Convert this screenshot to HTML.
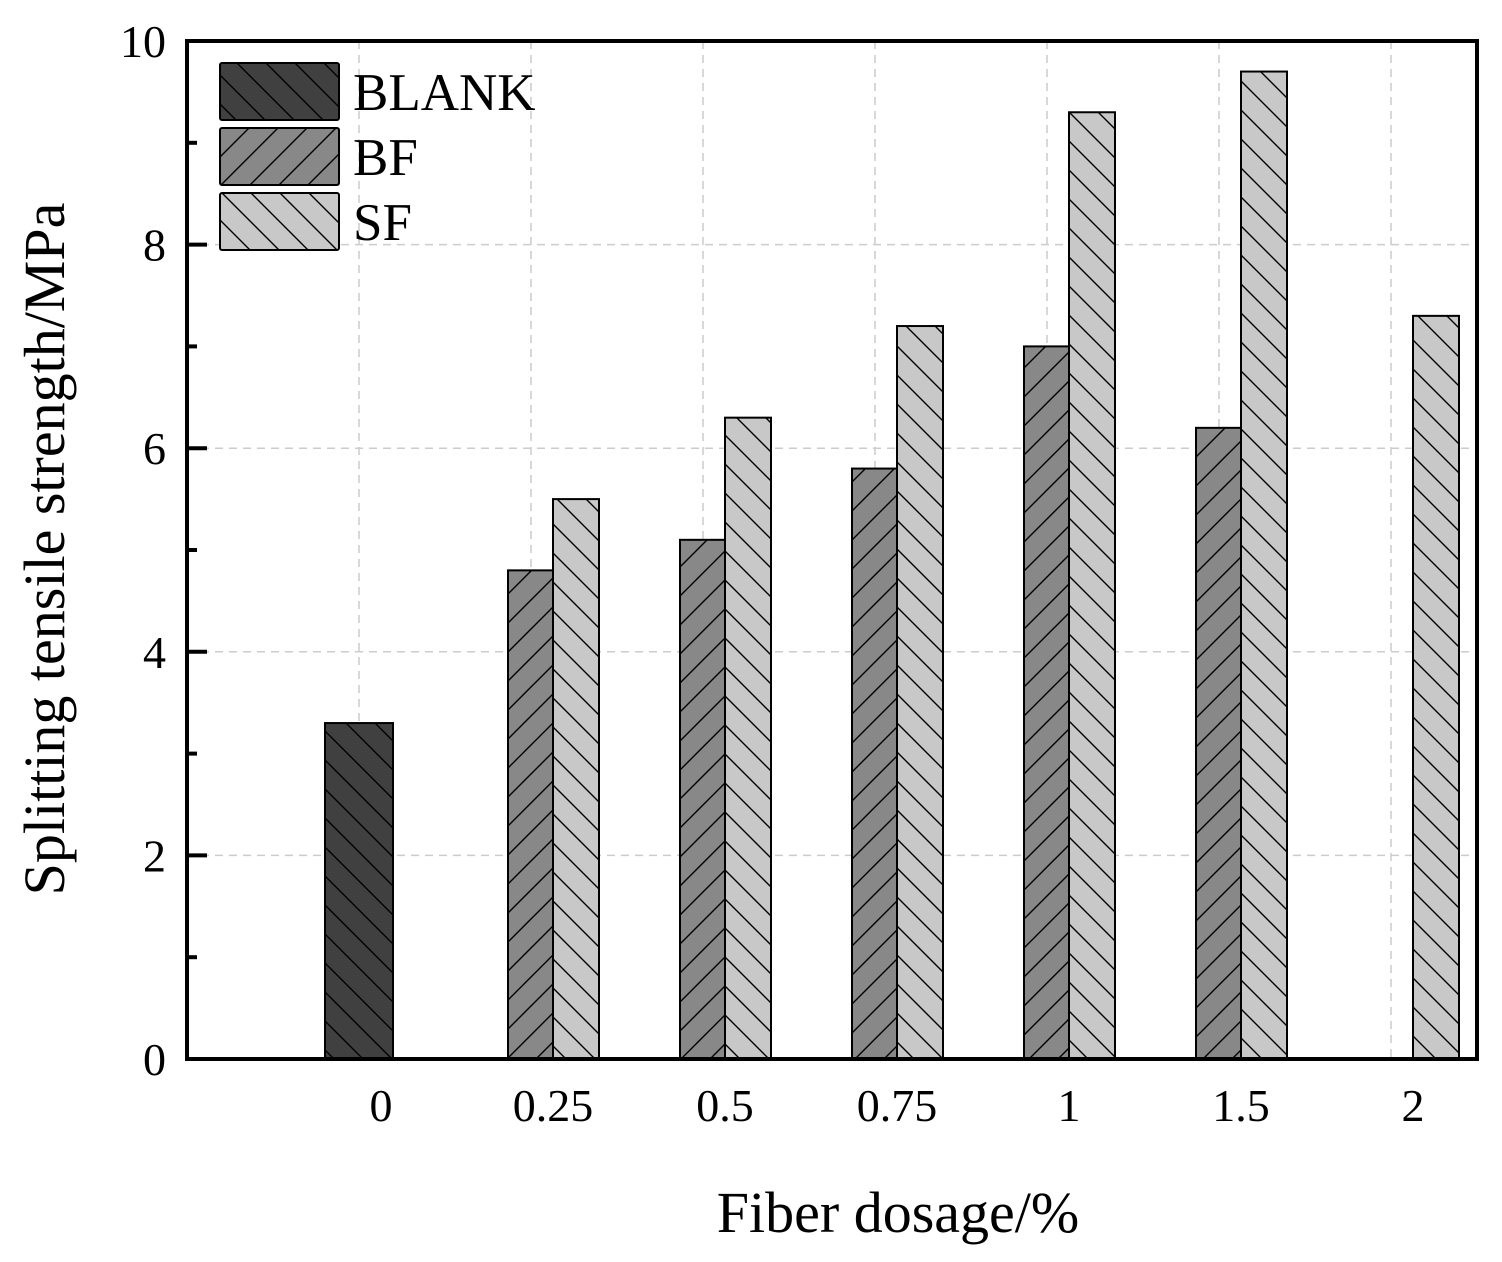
<!DOCTYPE html>
<html><head><meta charset="utf-8"><style>
body{margin:0;background:#fff}
svg{display:block;font-family:"Liberation Serif",serif}
</style></head><body>
<svg width="1502" height="1262" viewBox="0 0 1502 1262">
<defs>
<pattern id="hb" patternUnits="userSpaceOnUse" width="29" height="29"><rect width="29" height="29" fill="#404040"/><path d="M-7,-7L36,36M-7,22L7,36M22,-7L36,7" stroke="#000" stroke-width="1.4"/></pattern>
<pattern id="hf" patternUnits="userSpaceOnUse" width="29" height="29"><rect width="29" height="29" fill="#888"/><path d="M-7,36L36,-7M-7,7L7,-7M22,36L36,22" stroke="#000" stroke-width="1.4"/></pattern>
<pattern id="hs" patternUnits="userSpaceOnUse" width="29" height="29"><rect width="29" height="29" fill="#c8c8c8"/><path d="M-7,-7L36,36M-7,22L7,36M22,-7L36,7" stroke="#000" stroke-width="1.4"/></pattern>
</defs>
<g id="grid"></g>
<g id="bars"></g>
<g id="axes"></g>
<g>
<rect x="220" y="63" width="119" height="57" rx="2" fill="url(#hb)" stroke="#000" stroke-width="2"/>
<rect x="220" y="128" width="119" height="57" rx="2" fill="url(#hf)" stroke="#000" stroke-width="2"/>
<rect x="220" y="193" width="119" height="57" rx="2" fill="url(#hs)" stroke="#000" stroke-width="2"/>
<text x="353" y="110" font-size="53">BLANK</text>
<text x="353" y="175" font-size="53">BF</text>
<text x="353" y="240" font-size="53">SF</text>
</g>
<text x="898" y="1232" font-size="58" text-anchor="middle">Fiber dosage/%</text>
<text transform="translate(64,549) rotate(-90)" font-size="58" text-anchor="middle">Splitting tensile strength/MPa</text>
</svg>
<script>
const categories=["0","0.25","0.5","0.75","1","1.5","2"];
const blankValues=[3.3,null,null,null,null,null,null];
const bfValues=[null,4.8,5.1,5.8,7.0,6.2,null];
const sfValues=[null,5.5,6.3,7.2,9.3,9.7,7.3];
const yTicks=[0,2,4,6,8,10];
const NS="http://www.w3.org/2000/svg";
const L=187,R=1477,T=41,B=1059;
const y=v=>B-(v/10)*(B-T);
const xc=i=>381+172*i;
function mk(p,tag,attrs){const e=document.createElementNS(NS,tag);for(const k in attrs)e.setAttribute(k,attrs[k]);p.appendChild(e);return e;}
const grid=document.getElementById('grid'),bars=document.getElementById('bars'),axes=document.getElementById('axes');
yTicks.forEach(v=>{if(v>0&&v<10){const g=mk(grid,'line',{x1:L,x2:R,y1:y(v),y2:y(v),stroke:'#ccc','stroke-width':1.5,'stroke-dasharray':'8,6'});

}});
categories.forEach((c,i)=>{const g=mk(grid,'line',{x1:xc(i)-22,x2:xc(i)-22,y1:T,y2:B,stroke:'#ccc','stroke-width':1.5,'stroke-dasharray':'8,6'});

});
categories.forEach((c,i)=>{
 if(blankValues[i]!=null){const r=mk(bars,'rect',{x:xc(i)-56,y:y(blankValues[i]),width:68,height:B-y(blankValues[i]),fill:'url(#hb)',stroke:'#000','stroke-width':2});
 
 }
 if(bfValues[i]!=null){const r=mk(bars,'rect',{x:xc(i)-45,y:y(bfValues[i]),width:45,height:B-y(bfValues[i]),fill:'url(#hf)',stroke:'#000','stroke-width':2});
 
 }
 if(sfValues[i]!=null){const r=mk(bars,'rect',{x:xc(i),y:y(sfValues[i]),width:46,height:B-y(sfValues[i]),fill:'url(#hs)',stroke:'#000','stroke-width':2});
 
 }
 const t=mk(axes,'text',{x:xc(i),y:1121,'font-size':46,'text-anchor':'middle'});t.textContent=c;
 
 
});
const fr=mk(axes,'rect',{x:L,y:T,width:R-L,height:B-T,fill:'none',stroke:'#000','stroke-width':4});


for(let v=0;v<=10;v++){const major=v%2===0;const tk=mk(axes,'line',{x1:L,x2:L+(major?20:10),y1:y(v),y2:y(v),stroke:'#000','stroke-width':4});

}
yTicks.forEach(v=>{const t=mk(axes,'text',{x:166,y:y(v)+16,'font-size':46,'text-anchor':'end'});t.textContent=v;

});
</script>
</body></html>
